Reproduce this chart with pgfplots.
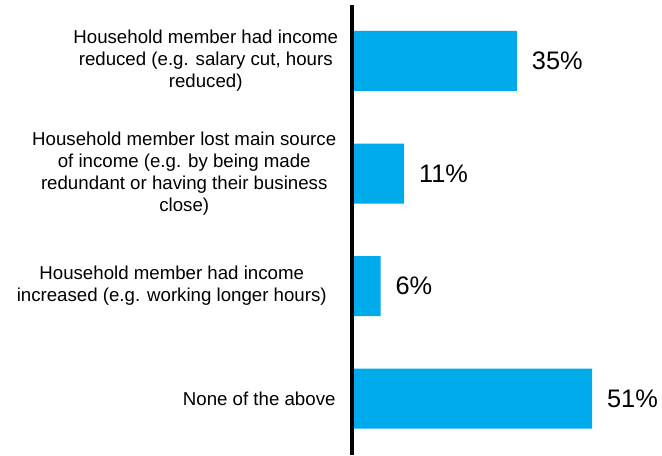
\documentclass[border=0pt]{standalone}
\usepackage{fontspec}
\setmainfont{Liberation Sans}
\usepackage{pgfplots}
\pgfplotsset{compat=1.18}
\definecolor{barblue}{RGB}{0,171,236}
\newcommand{\lab}[2]{\makebox[#1][c]{\parbox[c]{#1}{\centering #2}}}
\begin{document}
\begin{tikzpicture}
\begin{axis}[
  xbar,
  bar width=45pt,
  x=3.525pt, y=84.45pt,
  xmin=0, xmax=65.85,
  ymin=-0.5, ymax=3.5,
  y dir=reverse,
  axis x line=none,
  axis y line*=left,
  axis line style={line width=3pt, black},
  axis on top,
  ytick={0,1,2,3},
  major tick length=0pt,
  /pgf/number format/assume math mode=true,
  yticklabels={
    {\lab{208.5pt}{Household member had income\\reduced (e.g. salary cut, hours\\reduced)}},
    {\lab{240.75pt}{Household member lost main source\\of income (e.g. by being made\\redundant or having their business\\close)}},
    {\lab{259.5pt}{Household member had income\\increased (e.g. working longer hours)}},
    {\lab{128.25pt}{None of the above}}
  },
  yticklabel style={anchor=east, inner sep=0pt, xshift=-5.625pt, font=\fontsize{14}{16.6}\selectfont},
  nodes near coords={\pgfmathprintnumber[assume math mode=true]{\pgfplotspointmeta}\%},
  point meta=x,
  nodes near coords style={anchor=west, inner sep=0pt, xshift=11pt, font=\fontsize{19}{22}\selectfont, black},
  clip=false,
]
\addplot[fill=barblue, draw=none] coordinates {(35,0) (11,1) (6,2) (51,3)};
\end{axis}
\pgfresetboundingbox
\path[use as bounding box] (-264.375pt,0pt) rectangle (232.125pt,341.25pt);
\end{tikzpicture}
\end{document}
